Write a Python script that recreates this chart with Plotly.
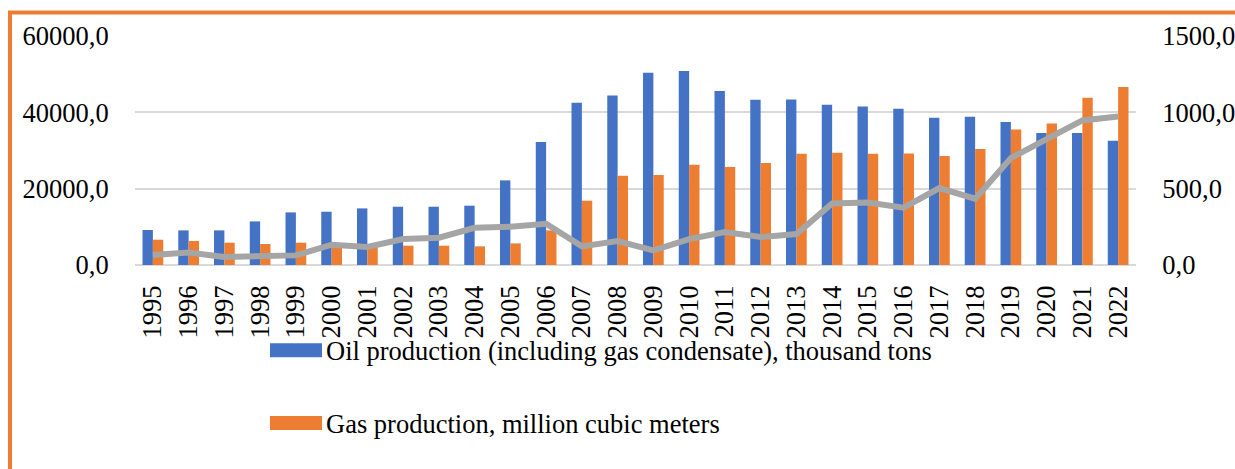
import plotly.graph_objects as go

years = [str(y) for y in range(1995, 2023)]
oil = [9170, 9070, 9070, 11420, 13780, 13960, 14830, 15270, 15270, 15540,
       22170, 32230, 42530, 44440, 50390, 50830, 45590, 43310, 43390, 42000,
       41560, 40950, 38600, 38860, 37470, 34590, 34590, 32570]
gas = [6630, 6290, 5840, 5500, 5840, 4880, 5500, 5060, 5060, 4880,
       5660, 9070, 16850, 23400, 23580, 26280, 25680, 26730, 29160, 29430,
       29160, 29240, 28560, 30390, 35530, 37100, 43830, 46640]
third = [65, 82, 52, 56, 63, 133, 118, 170, 179, 244,
         251, 270, 122, 157, 96, 170, 216, 183, 203, 403,
         410, 375, 504, 434, 700, 825, 947, 973]

oil_name = "Oil production (including gas condensate), thousand tons"
gas_name = "Gas production, million cubic meters"

BLUE = "#4472C4"
ORANGE = "#ED7D31"
GREY = "#A5A5A5"
FONT = "Liberation Serif"
FS = 26.5

W, H = 1235, 469
L, T, PW, PH = 135, 36, 1001, 229
R = W - L - PW
B = H - T - PH


def px(x):
    return (x - L) / PW


def py(y):
    return (T + PH - y) / PH


fig = go.Figure()
fig.add_trace(go.Bar(x=years, y=oil, name=oil_name, marker_color=BLUE,
                     marker_line_width=0, showlegend=False))
fig.add_trace(go.Bar(x=years, y=gas, name=gas_name, marker_color=ORANGE,
                     marker_line_width=0, showlegend=False))
fig.add_trace(go.Scatter(x=years, y=third, mode="lines", yaxis="y2",
                         line=dict(color=GREY, width=6), showlegend=False))

# legend built from shapes/annotations to match the large swatches
legend_items = [(oil_name, BLUE, 343.3, 357.3, 350.5),
                (gas_name, ORANGE, 416, 430, 423.5)]
shapes = []
annotations = []
for name, col, y0, y1, yc in legend_items:
    shapes.append(dict(type="rect", xref="paper", yref="paper",
                       x0=px(270), x1=px(322), y0=py(y1), y1=py(y0),
                       fillcolor=col, line_width=0))
    annotations.append(dict(text=name, xref="paper", yref="paper",
                            x=px(324), y=py(yc), xanchor="left", yanchor="middle",
                            showarrow=False,
                            font=dict(family=FONT, size=FS, color="black")))

# orange chart frame (extends beyond the cropped picture)
shapes.append(dict(type="rect", xref="paper", yref="paper",
                   x0=px(10), x1=px(1400), y0=py(600), y1=py(12.5),
                   line=dict(color=ORANGE, width=4), fillcolor="rgba(0,0,0,0)",
                   layer="above"))

fig.update_layout(
    width=W, height=H,
    margin=dict(l=L, r=R, t=T, b=B, pad=0, autoexpand=False),
    paper_bgcolor="white", plot_bgcolor="white",
    separators=", ",
    barmode="group", bargap=0.42, bargroupgap=0,
    font=dict(family=FONT, size=FS, color="black"),
    xaxis=dict(type="category", tickangle=-90, showgrid=False,
               showline=False, zeroline=False, automargin=False,
               ticks="outside", ticklen=9, tickcolor="rgba(0,0,0,0)",
               tickfont=dict(family=FONT, size=FS, color="black")),
    yaxis=dict(range=[0, 60000], tickvals=[0, 20000, 40000, 60000],
               tickformat=".1f", showgrid=True, gridcolor="#D9D9D9",
               gridwidth=1.5, zeroline=True, zerolinecolor="#D9D9D9",
               zerolinewidth=2, showline=False, automargin=False,
               ticks="outside", ticklen=20, tickcolor="rgba(0,0,0,0)",
               tickfont=dict(family=FONT, size=FS, color="black")),
    yaxis2=dict(range=[0, 1500], tickvals=[0, 500, 1000, 1500],
                tickformat=".1f", overlaying="y", side="right",
                showgrid=False, zeroline=False, showline=False, automargin=False,
                ticks="outside", ticklen=20, tickcolor="rgba(0,0,0,0)",
                tickfont=dict(family=FONT, size=FS, color="black")),
    shapes=shapes,
    annotations=annotations,
)

fig.write_html("out.html",
               config={"displayModeBar": False},
               post_script="document.body.style.margin='0px';"
                           "document.body.style.overflow='hidden';")
